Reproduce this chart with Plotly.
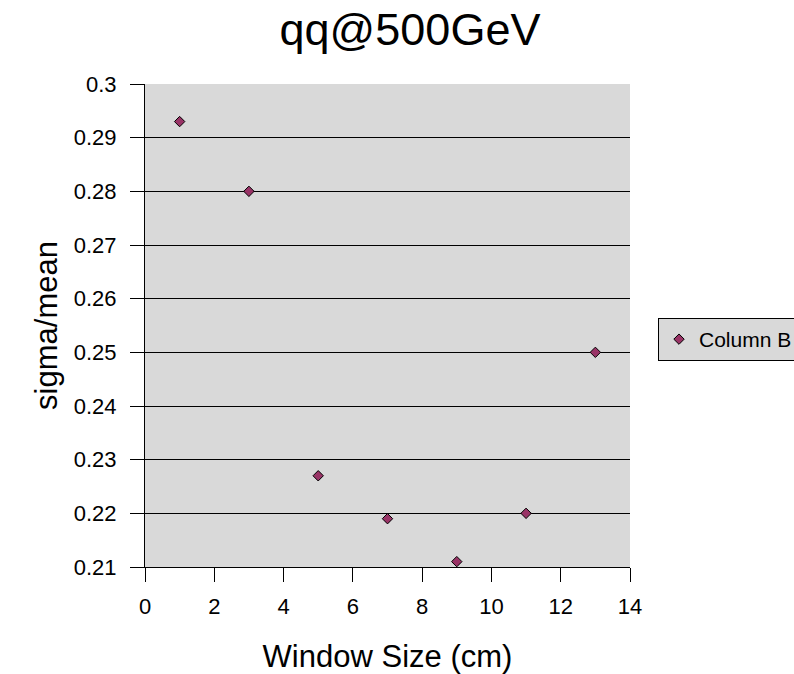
import plotly.graph_objects as go

window_size = [1, 3, 5, 7, 9, 11, 13]
sigma_mean = [0.293, 0.280, 0.227, 0.219, 0.211, 0.220, 0.250]
x_ticks = [0, 2, 4, 6, 8, 10, 12, 14]
y_ticks = [0.21, 0.22, 0.23, 0.24, 0.25, 0.26, 0.27, 0.28, 0.29, 0.3]
y_tick_text = ["0.21", "0.22", "0.23", "0.24", "0.25", "0.26", "0.27", "0.28", "0.29", "0.3"]

FONT = "Liberation Sans, Arial, sans-serif"

fig = go.Figure()
fig.add_trace(go.Scatter(
    x=window_size, y=sigma_mean, mode="markers", name="Column B",
    marker=dict(symbol="diamond", size=8, color="#993366",
                line=dict(color="black", width=1)),
))

fig.update_layout(
    width=794, height=674,
    margin=dict(l=145, r=164, t=84, b=107, autoexpand=False),
    paper_bgcolor="white", plot_bgcolor="#d9d9d9",
    font=dict(family=FONT, color="black"),
    title=dict(text="qq@500GeV", x=410 / 794, xanchor="center",
               y=1 - 29 / 674, yanchor="middle", font=dict(size=45, family=FONT)),
    showlegend=True,
    legend=dict(x=(658 - 145) / 485, xanchor="left", y=0.471, yanchor="middle",
                bgcolor="#d9d9d9", bordercolor="black", borderwidth=1,
                itemwidth=30,
                font=dict(size=21, family=FONT)),
    xaxis=dict(range=[0, 14], tickvals=x_ticks, ticks="outside", ticklen=14,
               tickcolor="black", showgrid=False, zeroline=False,
               showline=True, linecolor="black", linewidth=1,
               tickfont=dict(size=22), ticklabelstandoff=6,
               title=dict(text="Window Size (cm)", font=dict(size=31), standoff=26)),
    yaxis=dict(range=[0.21, 0.3], tickvals=y_ticks, ticktext=y_tick_text,
               ticks="outside", ticklen=14, tickcolor="black",
               showgrid=True, gridcolor="black", gridwidth=1, zeroline=False,
               showline=True, linecolor="black", linewidth=1,
               tickfont=dict(size=22), ticklabelstandoff=9,
               title=dict(text="sigma/mean", font=dict(size=31), standoff=6)),
)

fig.write_html("out.html")
